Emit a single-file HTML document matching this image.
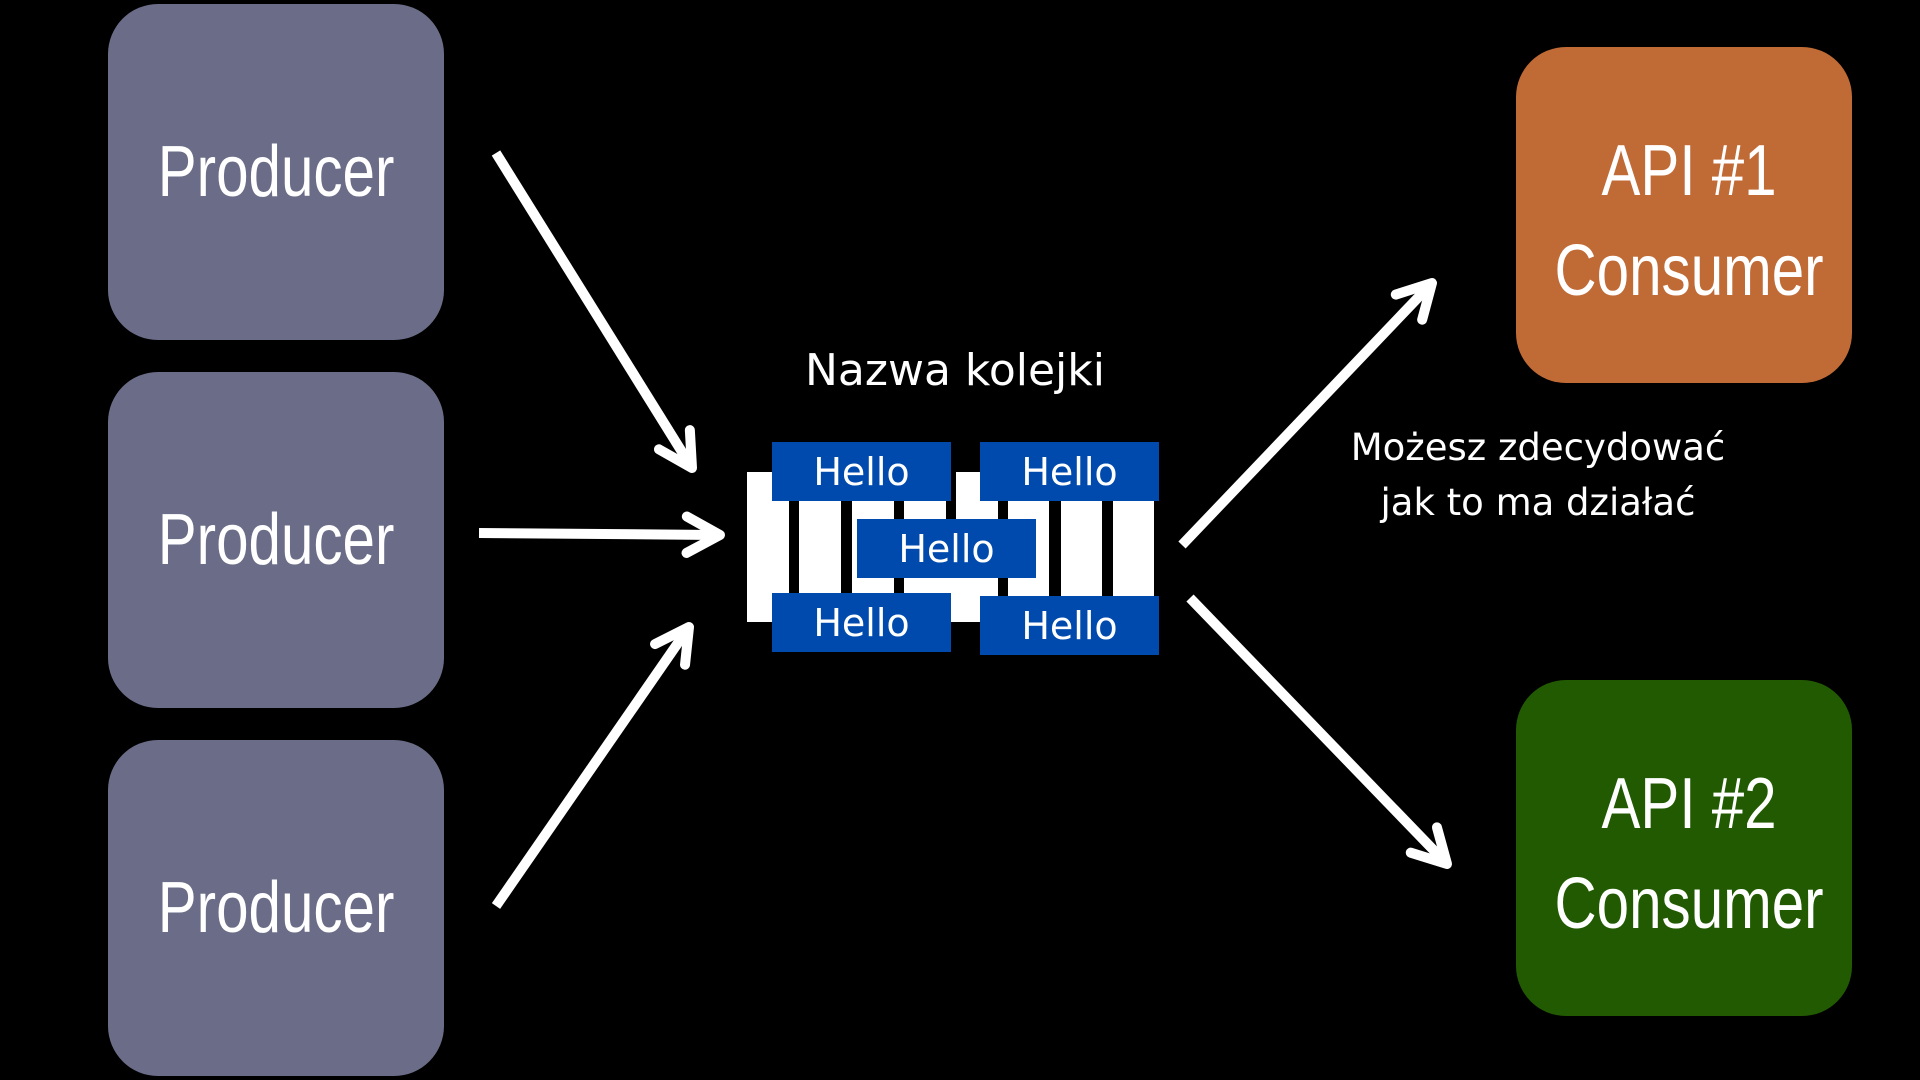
<!DOCTYPE html>
<html><head><meta charset="utf-8"><style>
html,body{margin:0;padding:0;background:#000;width:1920px;height:1080px;overflow:hidden}
.box{position:absolute;border-radius:50px;display:flex;flex-direction:column;align-items:center;justify-content:center;color:#fff;font-family:"Liberation Sans",sans-serif;font-size:72px;line-height:100px}
.box span{display:inline-block;transform:scaleX(0.81)}
.p{background:#6b6d88;left:108px;width:336px;height:336px}
.h{position:absolute;background:#004aad;color:#fff;font-family:"DejaVu Sans","Liberation Sans",sans-serif;font-size:38px;display:flex;align-items:center;justify-content:center;width:179px;height:59px}
.t{position:absolute;color:#fff;font-family:"DejaVu Sans","Liberation Sans",sans-serif;white-space:nowrap}
</style></head><body>
<div class="box p" style="top:4px"><span>Producer</span></div>
<div class="box p" style="top:372px"><span>Producer</span></div>
<div class="box p" style="top:740px"><span>Producer</span></div>
<div class="box" style="background:#c06a35;left:1516px;top:47px;width:336px;height:336px;padding-left:10px;box-sizing:border-box;padding-top:12px"><span>API #1</span><span>Consumer</span></div>
<div class="box" style="background:#215a00;left:1516px;top:680px;width:336px;height:336px;padding-left:10px;box-sizing:border-box;padding-top:12px"><span>API #2</span><span>Consumer</span></div>

<svg width="1920" height="1080" style="position:absolute;left:0;top:0">
<rect x="747" y="472" width="407" height="150" fill="#fff"/>
<g fill="#000">
<rect x="789" y="472" width="10" height="150"/>
<rect x="841" y="472" width="11" height="150"/>
<rect x="894" y="472" width="10" height="150"/>
<rect x="946" y="440" width="10" height="30"/>
<rect x="946" y="472" width="10" height="100"/>
<rect x="998" y="472" width="10" height="150"/>
<rect x="1049" y="472" width="12" height="150"/>
<rect x="1102" y="472" width="11" height="150"/>
</g>
<g stroke="#fff" stroke-width="10" fill="none" stroke-linecap="round" stroke-linejoin="round" id="arr"></g>
</svg>
<script>
var A=[[496,153,692,468],[479,533,720,535],[496,906,689,627],[1182,545,1432,283],[1190,598,1447,864]];
var g=document.getElementById('arr'),s='';
A.forEach(function(a){var dx=a[2]-a[0],dy=a[3]-a[1],L=Math.hypot(dx,dy),ux=dx/L,uy=dy/L,h=38,c=Math.cos(0.5),sn=Math.sin(0.5);
var b1x=-(ux*c-uy*sn),b1y=-(uy*c+ux*sn),b2x=-(ux*c+uy*sn),b2y=-(uy*c-ux*sn);
s+='<line x1="'+a[0]+'" y1="'+a[1]+'" x2="'+(a[2]-ux*4)+'" y2="'+(a[3]-uy*4)+'" stroke-linecap="butt"/>';
s+='<path d="M'+(a[2]+b1x*h)+' '+(a[3]+b1y*h)+' L'+a[2]+' '+a[3]+' L'+(a[2]+b2x*h)+' '+(a[3]+b2y*h)+'"/>';});
g.innerHTML=s;
</script>
<div class="h" style="left:772px;top:442px">Hello</div>
<div class="h" style="left:980px;top:442px">Hello</div>
<div class="h" style="left:857px;top:519px">Hello</div>
<div class="h" style="left:772px;top:593px">Hello</div>
<div class="h" style="left:980px;top:596px">Hello</div>
<div class="t" style="left:755px;top:345px;width:400px;text-align:center;font-size:44px">Nazwa kolejki</div>
<div class="t" style="left:1338px;top:420px;width:400px;text-align:center;font-size:37px;line-height:55px">Możesz zdecydować<br>jak to ma działać</div>
</body></html>
